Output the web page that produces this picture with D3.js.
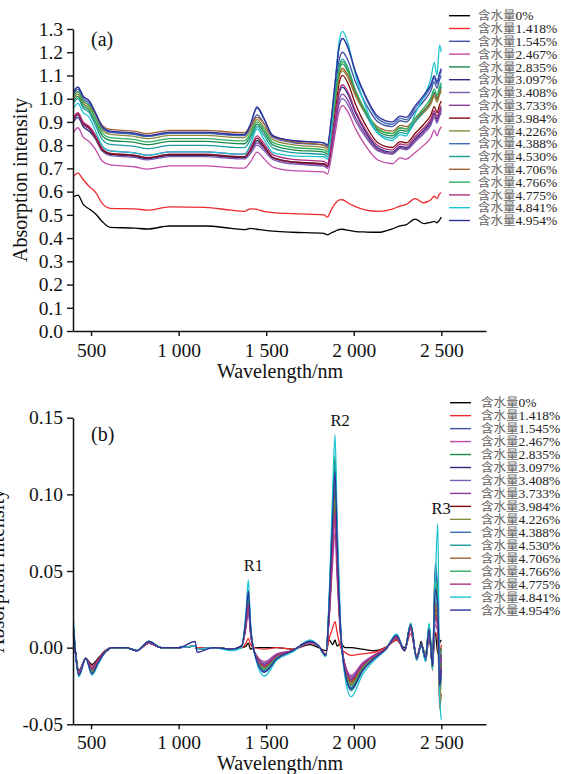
<!DOCTYPE html>
<html>
<head>
<meta charset="utf-8">
<script src="https://cdn.jsdelivr.net/npm/d3@7"></script>
<style>
  html, body { margin: 0; padding: 0; background: #fff; }
  svg { display: block; }
  text { font-family: "Liberation Serif", "Times New Roman", "Noto Sans CJK SC", serif; fill: #111; }
</style>
</head>
<body>
<svg id="chart" width="561" height="774"></svg>
<script>
// ---- legend / series definitions ----
const moistureLabels = ["0%", "1.418%", "1.545%", "2.467%", "2.835%", "3.097%", "3.408%", "3.733%", "3.984%",
  "4.226%", "4.388%", "4.530%", "4.706%", "4.766%", "4.775%", "4.841%", "4.954%"];
const seriesColors = ["#000000", "#ee2a2e", "#3f51a5", "#c24aa6", "#1c8a4c", "#2b2b7d", "#7a5cb3", "#863b98", "#7f0a0a",
  "#8a8a3c", "#3a6db5", "#1b9c9c", "#a2612f", "#2eb05e", "#b1307f", "#1cc4d2", "#2f2f9c"];

// ---- axis ticks ----
const xTickValues = [500, 1000, 1500, 2000, 2500];
const xTickLabels = ["500", "1 000", "1 500", "2 000", "2 500"];
const yTickValuesA = [0, 0.1, 0.2, 0.3, 0.4, 0.5, 0.6, 0.7, 0.8, 0.9, 1.0, 1.1, 1.2, 1.3];
const yTickLabelsA = ["0.0", "0.1", "0.2", "0.3", "0.4", "0.5", "0.6", "0.7", "0.8", "0.9", "1.0", "1.1", "1.2", "1.3"];
const yTickValuesB = [-0.05, 0, 0.05, 0.10, 0.15];
const yTickLabelsB = ["-0.05", "0.00", "0.05", "0.10", "0.15"];

// ---- panel (a): absorption spectra ----
const wavelengthA = [400, 425, 455, 490, 525, 565, 610, 750, 820, 950, 1150, 1300, 1375, 1410, 1448, 1485, 1540, 1650,
  1830, 1850, 1870, 1895, 1918, 1936, 1965, 2010, 2070, 2140, 2220, 2265, 2300, 2350, 2400, 2440, 2460, 2475, 2490, 2500];

const absA_0 = [0.578, 0.585, 0.545, 0.525, 0.505, 0.47, 0.446, 0.443, 0.439, 0.452, 0.452, 0.442, 0.436, 0.442, 0.438, 0.434, 0.43, 0.425,
  0.42, 0.414, 0.422, 0.43, 0.437, 0.438, 0.434, 0.428, 0.426, 0.425, 0.44, 0.452, 0.458, 0.482, 0.462, 0.468, 0.472, 0.466, 0.478, 0.49];
const absA_1418 = [0.665, 0.68, 0.652, 0.622, 0.598, 0.548, 0.528, 0.526, 0.52, 0.534, 0.532, 0.52, 0.515, 0.526, 0.524, 0.515, 0.51, 0.505,
  0.50, 0.49, 0.52, 0.55, 0.564, 0.565, 0.552, 0.535, 0.52, 0.515, 0.525, 0.538, 0.545, 0.57, 0.552, 0.565, 0.58, 0.57, 0.59, 0.595];
const absA_1545 = [1.02, 1.04, 1.00, 0.98, 0.933, 0.874, 0.855, 0.847, 0.837, 0.851, 0.851, 0.843, 0.841, 0.875, 0.93, 0.896, 0.833, 0.811,
  0.80, 0.79, 0.88, 1.04, 1.172, 1.20, 1.168, 1.072, 0.976, 0.899, 0.88, 0.905, 0.90, 0.946, 0.99, 1.034, 1.072, 1.045, 1.082, 1.10];
const absA_2467 = [0.855, 0.875, 0.835, 0.815, 0.782, 0.731, 0.715, 0.707, 0.697, 0.711, 0.711, 0.703, 0.701, 0.728, 0.77, 0.744, 0.705, 0.69,
  0.685, 0.675, 0.742, 0.856, 0.95, 0.97, 0.945, 0.87, 0.795, 0.735, 0.72, 0.745, 0.74, 0.768, 0.80, 0.832, 0.865, 0.84, 0.867, 0.88];
const absA_2835 = [0.99, 1.01, 0.97, 0.95, 0.90, 0.84, 0.82, 0.812, 0.802, 0.816, 0.816, 0.808, 0.806, 0.838, 0.89, 0.858, 0.80, 0.78,
  0.77, 0.76, 0.846, 0.998, 1.123, 1.15, 1.119, 1.026, 0.933, 0.859, 0.84, 0.865, 0.86, 0.903, 0.945, 0.987, 1.024, 0.998, 1.033, 1.05];
const absA_3097 = [0.90, 0.92, 0.88, 0.86, 0.827, 0.776, 0.76, 0.752, 0.742, 0.756, 0.756, 0.748, 0.746, 0.775, 0.82, 0.792, 0.745, 0.728,
  0.72, 0.71, 0.786, 0.918, 1.027, 1.05, 1.022, 0.938, 0.854, 0.787, 0.77, 0.795, 0.79, 0.827, 0.865, 0.903, 0.938, 0.913, 0.945, 0.96];
const absA_3408 = [0.91, 0.93, 0.89, 0.87, 0.828, 0.773, 0.755, 0.747, 0.737, 0.751, 0.751, 0.743, 0.741, 0.764, 0.80, 0.778, 0.738, 0.719,
  0.71, 0.70, 0.768, 0.884, 0.98, 1.00, 0.976, 0.904, 0.832, 0.774, 0.76, 0.785, 0.78, 0.814, 0.85, 0.886, 0.92, 0.895, 0.926, 0.94];
const absA_3733 = [0.91, 0.93, 0.89, 0.87, 0.834, 0.781, 0.765, 0.757, 0.747, 0.761, 0.761, 0.753, 0.751, 0.774, 0.81, 0.788, 0.745, 0.725,
  0.715, 0.705, 0.776, 0.898, 0.999, 1.02, 0.995, 0.918, 0.842, 0.78, 0.765, 0.79, 0.785, 0.821, 0.858, 0.895, 0.93, 0.904, 0.934, 0.95];
const absA_3984 = [0.915, 0.935, 0.895, 0.875, 0.835, 0.78, 0.763, 0.755, 0.745, 0.759, 0.759, 0.751, 0.749, 0.78, 0.83, 0.799, 0.747, 0.728,
  0.72, 0.71, 0.796, 0.948, 1.073, 1.10, 1.069, 0.976, 0.883, 0.809, 0.79, 0.815, 0.81, 0.85, 0.89, 0.93, 0.966, 0.94, 0.974, 0.99];
const absA_4226 = [1.00, 1.02, 0.98, 0.96, 0.919, 0.864, 0.846, 0.838, 0.828, 0.842, 0.842, 0.834, 0.832, 0.862, 0.91, 0.88, 0.823, 0.802,
  0.79, 0.78, 0.856, 0.988, 1.097, 1.12, 1.093, 1.012, 0.931, 0.866, 0.85, 0.875, 0.87, 0.904, 0.94, 0.976, 1.01, 0.985, 1.016, 1.03];
const absA_4388 = [1.03, 1.05, 1.01, 0.99, 0.938, 0.877, 0.857, 0.849, 0.839, 0.853, 0.853, 0.845, 0.843, 0.887, 0.96, 0.915, 0.839, 0.819,
  0.81, 0.80, 0.90, 1.08, 1.229, 1.26, 1.223, 1.112, 1.001, 0.912, 0.89, 0.915, 0.91, 0.959, 1.005, 1.051, 1.089, 1.063, 1.10, 1.12];
const absA_4530 = [0.98, 1.00, 0.96, 0.94, 0.886, 0.824, 0.803, 0.795, 0.785, 0.799, 0.799, 0.791, 0.789, 0.823, 0.88, 0.845, 0.787, 0.768,
  0.76, 0.75, 0.842, 1.006, 1.141, 1.17, 1.136, 1.034, 0.932, 0.85, 0.83, 0.855, 0.85, 0.899, 0.945, 0.991, 1.029, 1.003, 1.041, 1.06];
const absA_4706 = [1.01, 1.03, 0.99, 0.97, 0.935, 0.884, 0.868, 0.86, 0.85, 0.864, 0.864, 0.856, 0.854, 0.88, 0.92, 0.895, 0.839, 0.815,
  0.80, 0.79, 0.866, 0.998, 1.107, 1.13, 1.103, 1.022, 0.941, 0.876, 0.86, 0.885, 0.88, 0.914, 0.95, 0.986, 1.02, 0.995, 1.026, 1.04];
const absA_4766 = [1.01, 1.03, 0.99, 0.97, 0.916, 0.853, 0.832, 0.824, 0.814, 0.828, 0.828, 0.82, 0.818, 0.849, 0.90, 0.869, 0.811, 0.791,
  0.78, 0.77, 0.856, 1.008, 1.133, 1.16, 1.129, 1.036, 0.943, 0.869, 0.85, 0.875, 0.87, 0.916, 0.96, 1.004, 1.042, 1.015, 1.052, 1.07];
const absA_4775 = [0.92, 0.94, 0.90, 0.88, 0.844, 0.791, 0.775, 0.767, 0.757, 0.771, 0.771, 0.763, 0.761, 0.791, 0.84, 0.81, 0.758, 0.739,
  0.73, 0.72, 0.796, 0.928, 1.037, 1.06, 1.032, 0.948, 0.864, 0.797, 0.78, 0.805, 0.80, 0.837, 0.875, 0.913, 0.948, 0.923, 0.955, 0.97];
const absA_4841 = [0.96, 0.98, 0.94, 0.92, 0.862, 0.797, 0.775, 0.767, 0.757, 0.771, 0.771, 0.763, 0.761, 0.802, 0.87, 0.828, 0.768, 0.754,
  0.75, 0.74, 0.858, 1.074, 1.252, 1.29, 1.243, 1.102, 0.961, 0.848, 0.82, 0.845, 0.84, 0.934, 1.01, 1.086, 1.156, 1.10, 1.23, 1.20];
const absA_4954 = [1.03, 1.05, 1.01, 0.99, 0.94, 0.88, 0.86, 0.852, 0.842, 0.856, 0.856, 0.848, 0.846, 0.89, 0.965, 0.919, 0.84, 0.82,
  0.81, 0.80, 0.90, 1.08, 1.229, 1.26, 1.224, 1.116, 1.008, 0.922, 0.90, 0.925, 0.92, 0.969, 1.015, 1.061, 1.099, 1.073, 1.11, 1.13];

const spectraA = [absA_0, absA_1418, absA_1545, absA_2467, absA_2835, absA_3097, absA_3408, absA_3733, absA_3984,
  absA_4226, absA_4388, absA_4530, absA_4706, absA_4766, absA_4775, absA_4841, absA_4954];

// ---- panel (b): processed spectra ----
const wavelengthB = [400, 412, 430, 470, 505, 540, 580, 620, 700, 760, 830, 900, 1000, 1095, 1105, 1200, 1300, 1360, 1385, 1398,
  1410, 1430, 1490, 1560, 1650, 1750, 1800, 1840, 1860, 1880, 1893, 1905, 1925, 1950, 1985, 2050, 2120, 2180, 2245, 2290,
  2325, 2360, 2385, 2410, 2430, 2450, 2465, 2480, 2490, 2500];

const absB_0 = [0.005, -0.004, -0.015, -0.007, -0.011, -0.007, -0.002, 0.000, 0.000, -0.002, 0.003, 0.000, 0.000, 0.001, 0.000, 0.000, -0.001, 0.000, 0.001, 0.003,
  -0.001, 0.000, 0.000, 0.000, -0.001, 0.002, 0.000, -0.002, 0.005, 0.002, 0.005, 0.001, 0.003, 0.000, 0.000, -0.001, -0.002, 0.000, 0.005, 0.000,
  0.012, -0.008, 0.004, -0.009, 0.006, -0.002, 0.010, -0.004, 0.003, 0.005];
const absB_1418 = [0.012, -0.004, -0.017, -0.007, -0.012, -0.008, -0.002, 0.000, 0.000, -0.002, 0.003, 0.000, 0.000, 0.001, 0.000, 0.000, -0.001, 0.000, 0.003, 0.006,
  0.002, 0.000, -0.001, 0.000, -0.001, 0.003, 0.001, -0.004, 0.006, 0.013, 0.017, 0.010, 0.000, -0.003, -0.005, -0.004, -0.003, 0.000, 0.005, -0.001,
  0.009, -0.005, 0.002, -0.007, 0.008, -0.006, 0.010, 0.005, -0.004, 0.002];
const absB_1545 = [0.010, -0.004, -0.017, -0.007, -0.015, -0.009, -0.003, 0.000, 0.000, -0.002, 0.003, 0.000, 0.000, 0.001, -0.001, 0.000, -0.001, 0.001, 0.0165, 0.030,
  0.012, -0.002, -0.013, -0.0059, -0.002, 0.004, 0.001, -0.005, 0.0263, 0.0788, 0.105, 0.063, 0.0105, -0.0144, -0.024, -0.0132, -0.006, -0.0012, 0.007, -0.002,
  0.014, -0.007, 0.002, -0.006, 0.010, -0.010, 0.030, 0.020, -0.015, -0.005];
const absB_2467 = [0.008, -0.004, -0.016, -0.007, -0.013, -0.008, -0.003, 0.000, 0.000, -0.002, 0.003, 0.000, 0.000, 0.001, -0.001, 0.000, -0.001, 0.001, 0.0132, 0.024,
  0.0096, -0.002, -0.009, -0.004, -0.002, 0.003, 0.001, -0.005, 0.0188, 0.0563, 0.075, 0.045, 0.0075, -0.0108, -0.018, -0.0099, -0.0045, -0.0009, 0.006, -0.002,
  0.012, -0.007, 0.002, -0.005, 0.008, -0.012, 0.015, 0.010, -0.020, -0.008];
const absB_2835 = [0.012, -0.004, -0.018, -0.007, -0.016, -0.010, -0.003, 0.000, 0.000, -0.002, 0.004, 0.000, 0.000, 0.001, -0.001, 0.000, -0.001, 0.001, 0.0187, 0.034,
  0.0136, -0.002, -0.014, -0.0063, -0.002, 0.004, 0.001, -0.005, 0.0313, 0.0938, 0.125, 0.075, 0.0125, -0.0162, -0.027, -0.0149, -0.0068, -0.0014, 0.007, -0.002,
  0.015, -0.007, 0.002, -0.004, 0.012, -0.008, 0.040, 0.025, -0.010, 0.000];
const absB_3097 = [0.009, -0.004, -0.017, -0.007, -0.014, -0.008, -0.003, 0.000, 0.000, -0.002, 0.003, 0.000, 0.000, 0.001, -0.001, 0.000, -0.001, 0.001, 0.016, 0.029,
  0.0116, -0.002, -0.011, -0.005, -0.002, 0.004, 0.001, -0.005, 0.0238, 0.0713, 0.095, 0.057, 0.0095, -0.0126, -0.021, -0.0116, -0.0053, -0.0011, 0.007, -0.002,
  0.014, -0.007, 0.002, -0.006, 0.010, -0.010, 0.050, 0.030, -0.020, -0.010];
const absB_3408 = [0.008, -0.004, -0.016, -0.007, -0.013, -0.008, -0.003, 0.000, 0.000, -0.002, 0.003, 0.000, 0.000, 0.001, -0.001, 0.000, -0.001, 0.001, 0.0143, 0.026,
  0.0104, -0.002, -0.010, -0.0045, -0.002, 0.004, 0.001, -0.005, 0.0213, 0.0638, 0.085, 0.051, 0.0085, -0.0114, -0.019, -0.0105, -0.0048, -0.001, 0.006, -0.002,
  0.013, -0.007, 0.002, -0.007, 0.009, -0.011, 0.020, 0.015, -0.018, -0.006];
const absB_3733 = [0.009, -0.004, -0.016, -0.007, -0.014, -0.008, -0.003, 0.000, 0.000, -0.002, 0.003, 0.000, 0.000, 0.001, -0.001, 0.000, -0.001, 0.001, 0.0149, 0.027,
  0.0108, -0.002, -0.011, -0.005, -0.002, 0.004, 0.001, -0.005, 0.0225, 0.0675, 0.090, 0.054, 0.009, -0.012, -0.020, -0.011, -0.005, -0.001, 0.006, -0.002,
  0.013, -0.007, 0.002, -0.006, 0.011, -0.009, 0.022, 0.012, -0.015, -0.004];
const absB_3984 = [0.010, -0.004, -0.017, -0.007, -0.014, -0.008, -0.003, 0.000, 0.000, -0.002, 0.003, 0.000, 0.000, 0.001, -0.001, 0.000, -0.001, 0.001, 0.0165, 0.030,
  0.012, -0.002, -0.012, -0.0054, -0.002, 0.004, 0.001, -0.005, 0.025, 0.075, 0.100, 0.060, 0.010, -0.0132, -0.022, -0.0121, -0.0055, -0.0011, 0.007, -0.002,
  0.014, -0.007, 0.002, -0.008, 0.012, -0.012, 0.025, 0.018, -0.022, -0.010];
const absB_4226 = [0.011, -0.004, -0.017, -0.007, -0.015, -0.009, -0.003, 0.000, 0.000, -0.002, 0.004, 0.000, 0.000, 0.001, -0.001, 0.000, -0.001, 0.001, 0.0171, 0.031,
  0.0124, -0.002, -0.013, -0.0059, -0.002, 0.004, 0.001, -0.005, 0.0245, 0.0735, 0.098, 0.0588, 0.0098, -0.0138, -0.023, -0.0127, -0.0058, -0.0012, 0.007, -0.002,
  0.014, -0.007, 0.002, -0.006, 0.014, -0.015, 0.030, 0.010, -0.035, -0.020];
const absB_4388 = [0.013, -0.004, -0.018, -0.007, -0.016, -0.010, -0.003, 0.000, 0.000, -0.002, 0.004, 0.000, 0.000, 0.001, -0.001, 0.000, -0.001, 0.001, 0.0198, 0.036,
  0.0144, -0.002, -0.015, -0.0068, -0.002, 0.004, 0.001, -0.005, 0.0295, 0.0885, 0.118, 0.0708, 0.0118, -0.0156, -0.026, -0.0143, -0.0065, -0.0013, 0.008, -0.002,
  0.015, -0.007, 0.002, -0.007, 0.013, -0.010, 0.055, 0.035, -0.025, -0.012];
const absB_4530 = [0.014, -0.004, -0.018, -0.007, -0.016, -0.010, -0.003, 0.000, 0.000, -0.002, 0.004, 0.000, 0.000, 0.001, -0.001, 0.000, -0.001, 0.001, 0.0193, 0.035,
  0.014, -0.002, -0.016, -0.0072, -0.002, 0.004, 0.001, -0.005, 0.030, 0.090, 0.120, 0.072, 0.012, -0.0168, -0.028, -0.0154, -0.007, -0.0014, 0.008, -0.002,
  0.015, -0.007, 0.002, -0.008, 0.011, -0.013, 0.035, 0.025, -0.028, -0.015];
const absB_4706 = [0.011, -0.004, -0.017, -0.007, -0.015, -0.009, -0.003, 0.000, 0.000, -0.002, 0.003, 0.000, 0.000, 0.001, -0.001, 0.000, -0.001, 0.001, 0.0171, 0.031,
  0.0124, -0.002, -0.013, -0.0059, -0.002, 0.004, 0.001, -0.005, 0.023, 0.069, 0.092, 0.0552, 0.0092, -0.0144, -0.024, -0.0132, -0.006, -0.0012, 0.007, -0.002,
  0.014, -0.007, 0.002, -0.007, 0.012, -0.014, 0.028, 0.015, -0.040, -0.030];
const absB_4766 = [0.012, -0.004, -0.018, -0.007, -0.016, -0.010, -0.003, 0.000, 0.000, -0.002, 0.004, 0.000, 0.000, 0.001, -0.001, 0.000, -0.001, 0.001, 0.0182, 0.033,
  0.0132, -0.002, -0.014, -0.0063, -0.002, 0.004, 0.001, -0.005, 0.0275, 0.0825, 0.110, 0.066, 0.011, -0.015, -0.025, -0.0138, -0.0063, -0.0013, 0.008, -0.002,
  0.016, -0.007, 0.002, -0.005, 0.015, -0.009, 0.045, 0.030, -0.020, -0.010];
const absB_4775 = [0.009, -0.004, -0.017, -0.007, -0.014, -0.008, -0.003, 0.000, 0.000, -0.002, 0.003, 0.000, 0.000, 0.001, -0.001, 0.000, -0.001, 0.001, 0.0154, 0.028,
  0.0112, -0.002, -0.012, -0.0054, -0.002, 0.004, 0.001, -0.005, 0.022, 0.066, 0.088, 0.0528, 0.0088, -0.0126, -0.021, -0.0116, -0.0053, -0.0011, 0.007, -0.002,
  0.013, -0.007, 0.002, -0.006, 0.010, -0.011, 0.020, 0.015, -0.022, -0.012];
const absB_4841 = [0.018, -0.004, -0.019, -0.007, -0.018, -0.011, -0.003, 0.000, 0.000, -0.002, 0.004, 0.000, 0.000, 0.001, -0.001, 0.000, -0.002, 0.000, 0.0242, 0.044,
  0.0176, -0.002, -0.0185, -0.0083, -0.003, 0.005, 0.001, -0.006, 0.0348, 0.1043, 0.139, 0.0834, 0.0139, -0.0192, -0.032, -0.0176, -0.008, -0.0016, 0.009, -0.002,
  0.016, -0.008, 0.002, -0.009, 0.016, -0.014, 0.040, 0.081, -0.030, -0.047];
const absB_4954 = [0.013, -0.004, -0.018, -0.007, -0.017, -0.010, -0.003, 0.000, 0.000, -0.002, 0.004, 0.000, 0.000, 0.004, -0.003, 0.000, -0.001, 0.001, 0.0204, 0.037,
  0.0148, -0.002, -0.016, -0.0072, -0.002, 0.004, 0.001, -0.005, 0.0288, 0.0863, 0.115, 0.069, 0.0115, -0.0162, -0.027, -0.0149, -0.0068, -0.0014, 0.008, -0.002,
  0.015, -0.007, 0.002, -0.007, 0.012, -0.012, 0.038, 0.028, -0.025, -0.014];

const spectraB = [absB_0, absB_1418, absB_1545, absB_2467, absB_2835, absB_3097, absB_3408, absB_3733, absB_3984,
  absB_4226, absB_4388, absB_4530, absB_4706, absB_4766, absB_4775, absB_4841, absB_4954];

// peak annotations in panel (b)
const peakNames = ["R1", "R2", "R3"];
const peakWavelengths = [1398, 1893, 2482];
const peakValues = [0.044, 0.139, 0.081];

// ---- drawing ----
const svg = d3.select("#chart");
const FONT = '"Liberation Serif", "Times New Roman", serif';

function drawPanel(cfg) {
  const g = svg.append("g");
  const x = d3.scaleLinear().domain([397, 2755]).range([73, 486]);
  const y = d3.scaleLinear().domain(cfg.yDomain).range(cfg.yRange);

  const line = d3.line()
    .x((d, i) => x(cfg.wavelength[i]))
    .y(d => y(d))
    .curve(d3.curveMonotoneX);

  g.append("g").selectAll("path")
    .data(cfg.spectra)
    .join("path")
    .attr("d", d => line(d))
    .attr("fill", "none")
    .attr("stroke", (d, i) => seriesColors[i])
    .attr("stroke-width", 1.3)
    .attr("stroke-linejoin", "round");

  const xAxis = g.append("g")
    .attr("transform", `translate(0,${cfg.yRange[0]})`)
    .call(d3.axisBottom(x).tickValues(xTickValues)
      .tickFormat((d, i) => xTickLabels[i]).tickSize(5).tickSizeOuter(0).tickPadding(cfg.xPad));
  const yAxis = g.append("g")
    .attr("transform", "translate(73,0)")
    .call(d3.axisLeft(y).tickValues(cfg.yTicks)
      .tickFormat((d, i) => cfg.yLabels[i]).tickSize(6).tickSizeOuter(0).tickPadding(4));

  [xAxis, yAxis].forEach(a => {
    a.select(".domain").attr("stroke", "#111").attr("stroke-width", 1.5);
    a.selectAll(".tick line").attr("stroke", "#111").attr("stroke-width", 1.4);
    a.selectAll(".tick text").attr("font-family", FONT).attr("font-size", 19.5).attr("fill", "#111");
  });

  g.append("text")
    .attr("x", 280).attr("y", cfg.xTitleY)
    .attr("text-anchor", "middle")
    .attr("font-size", 20)
    .text("Wavelength/nm");

  g.append("text")
    .attr("transform", `translate(${cfg.yTitleX},${(cfg.yRange[0] + cfg.yRange[1]) / 2}) rotate(-90)`)
    .attr("text-anchor", "middle")
    .attr("font-size", 20)
    .text("Absorption intensity");

  g.append("text")
    .attr("x", 91).attr("y", cfg.tagY)
    .attr("font-size", 20)
    .text(cfg.tag);

  // legend
  const lg = g.append("g");
  moistureLabels.forEach((lab, i) => {
    const ly = cfg.legendY + i * cfg.legendStep;
    lg.append("line")
      .attr("x1", cfg.legendX).attr("x2", cfg.legendX + 21)
      .attr("y1", ly).attr("y2", ly)
      .attr("stroke", seriesColors[i]).attr("stroke-width", 1.4);
    const t = lg.append("text")
      .attr("x", cfg.legendX + cfg.legendTextGap).attr("y", ly + 4.6)
      .attr("font-size", 13.5);
    t.append("tspan").attr("font-family", '"Noto Sans CJK SC", sans-serif').attr("fill", "#666").attr("font-size", 12.5).text("含水量");
    t.append("tspan").attr("fill", "#222").text(lab);
  });

  return { g, x, y };
}

drawPanel({
  wavelength: wavelengthA, spectra: spectraA,
  yDomain: [0, 1.3], yRange: [331, 29],
  yTicks: yTickValuesA, yLabels: yTickLabelsA,
  xPad: 7, xTitleY: 378, yTitleX: 27,
  tag: "(a)", tagY: 46,
  legendX: 449, legendY: 15.7, legendStep: 12.8, legendTextGap: 29
});

const pb = drawPanel({
  wavelength: wavelengthB, spectra: spectraB,
  yDomain: [-0.05, 0.15], yRange: [724.3, 417.7],
  yTicks: yTickValuesB, yLabels: yTickLabelsB,
  xPad: 5.5, xTitleY: 770, yTitleX: 4,
  tag: "(b)", tagY: 441,
  legendX: 450, legendY: 402.7, legendStep: 12.96, legendTextGap: 31
});

// peak labels R1–R3 placed just above each peak
pb.g.append("g").selectAll("text")
  .data(peakNames)
  .join("text")
  .attr("x", (d, i) => pb.x(peakWavelengths[i]) + (i === 2 ? 3 : 5))
  .attr("y", (d, i) => pb.y(peakValues[i]) - 9)
  .attr("text-anchor", "middle")
  .attr("font-size", 16.5)
  .text(d => d);
</script>
</body>
</html>
